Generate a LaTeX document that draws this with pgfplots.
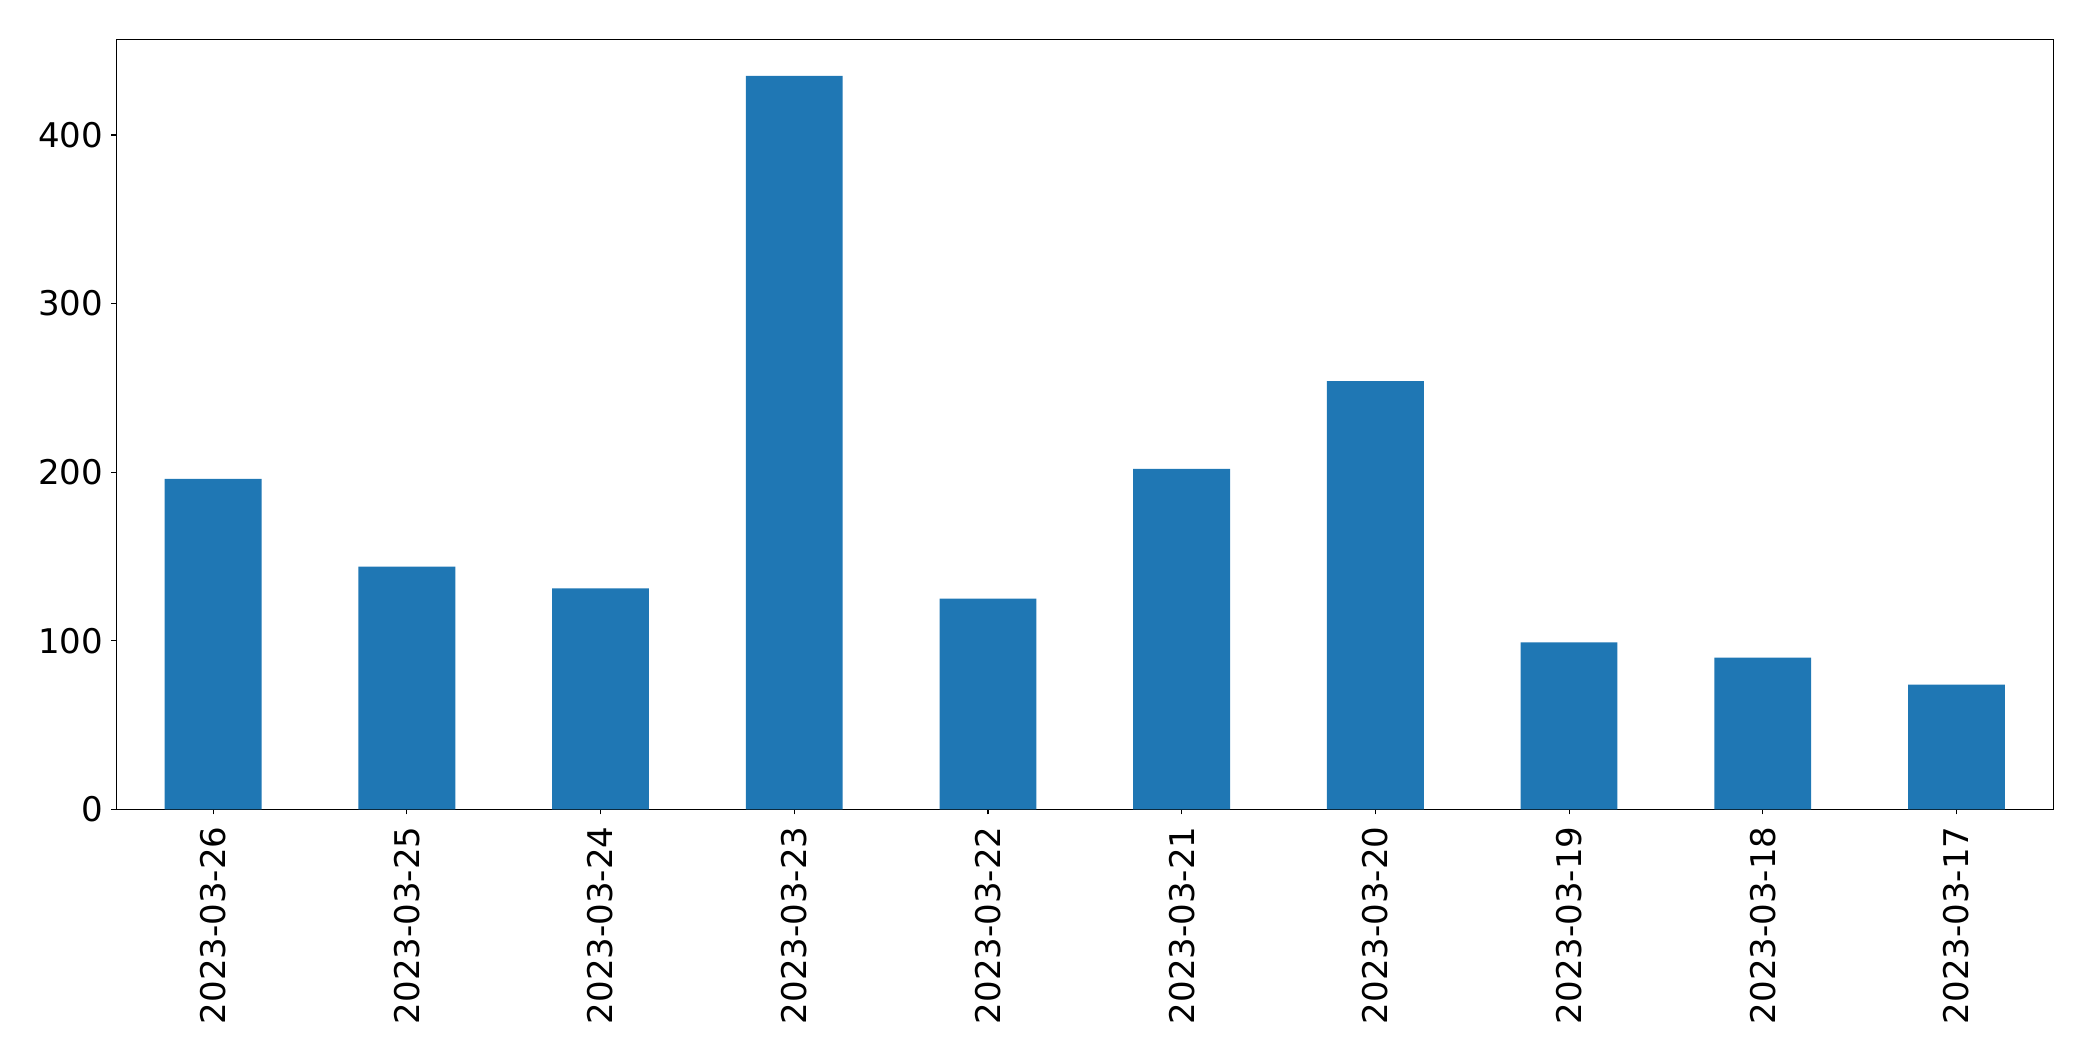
\documentclass[border=0pt]{standalone}
\usepackage{fontspec}
\setmainfont{DejaVu Sans}
\usepackage{pgfplots}
\pgfplotsset{compat=1.18}
\definecolor{mplblue}{HTML}{1F77B4}

\begin{document}
\begin{tikzpicture}
  \begin{axis}[
      scale only axis,
      width=1937pt,
      height=770pt,
      ybar,
      bar width=0.5,
      xmin=-0.5, xmax=9.5,
      ymin=0, ymax=456.75,
      xtick=data,
      xticklabels={2023-03-26,2023-03-25,2023-03-24,2023-03-23,2023-03-22,
                   2023-03-21,2023-03-20,2023-03-19,2023-03-18,2023-03-17},
      ytick={0,100,200,300,400},
      tick align=outside,
      major tick length=5pt,
      tick style={line width=1.1pt, black},
      axis line style={line width=1.1pt},
      xtick pos=bottom,
      ytick pos=left,
      /pgf/number format/assume math mode=true,
      ticklabel style={font=\fontsize{34}{40}\selectfont, inner sep=0pt},
      xticklabel style={rotate=90, anchor=east},
      yticklabel style={anchor=east},
      xticklabel shift=12pt,
      yticklabel shift=8pt,
    ]
    \addplot[draw=none, fill=mplblue] coordinates {
        (0, 196)
        (1, 144)
        (2, 131)
        (3, 435)
        (4, 125)
        (5, 202)
        (6, 254)
        (7, 99)
        (8, 90)
        (9, 74)
      };
  \end{axis}
  \path ([xshift=-116.3pt,yshift=-251.7pt]current axis.south west)
    rectangle ([xshift=39.7pt,yshift=39.3pt]current axis.north east);
\end{tikzpicture}
\end{document}
